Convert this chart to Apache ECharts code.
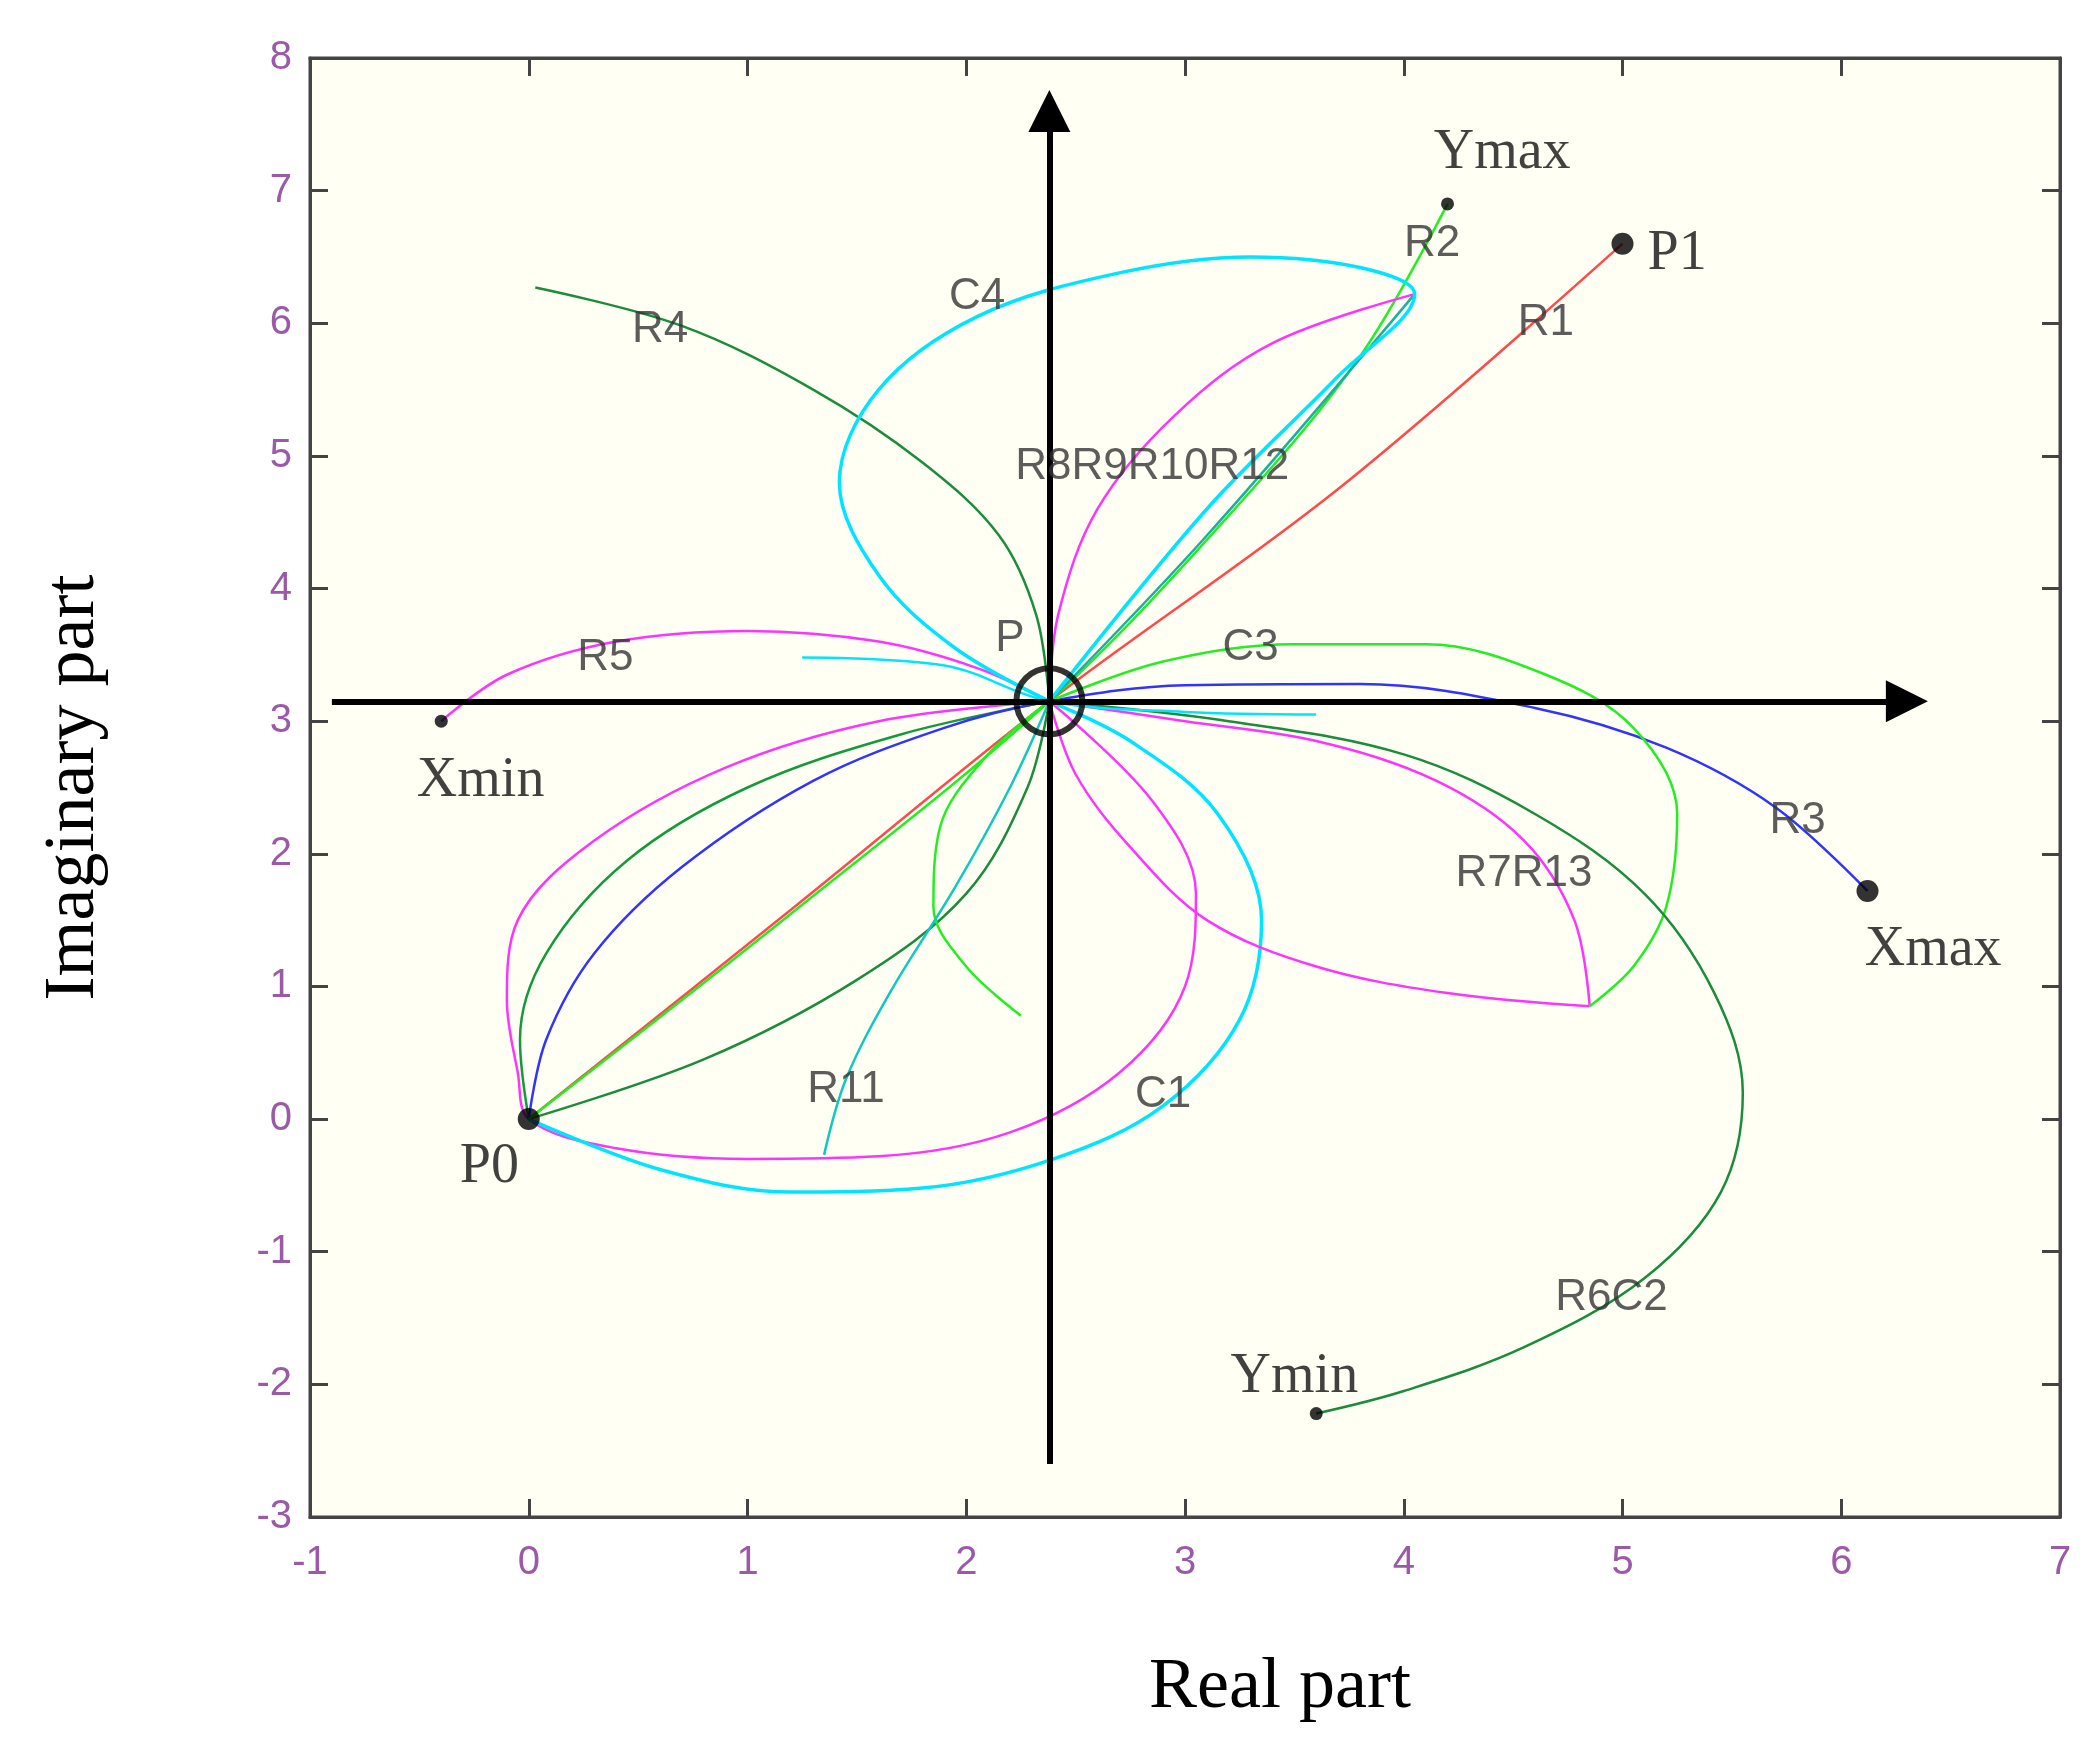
<!DOCTYPE html>
<html>
<head>
<meta charset="utf-8">
<script src="https://cdn.jsdelivr.net/npm/echarts@6/dist/echarts.min.js"></script>
<style>html,body{margin:0;background:#fff}#main{width:2100px;height:1749px}</style>
</head>
<body>
<div id="main"></div>
<script>
var xTicks = [-1, 0, 1, 2, 3, 4, 5, 6, 7];
var yTicks = [-3, -2, -1, 0, 1, 2, 3, 4, 5, 6, 7, 8];

// curves: [real, imaginary]
var R1 = [[0,0],[1.2,1.58],[2.38,3.15],[3.7,4.75],[5,6.6]];
var R2 = [[0,0],[1.2,1.55],[2.38,3.15],[3.2,4.55],[3.8,5.75],[4.2,6.9]];
var R2b = [[2.38,3.15],[3.1,4.4],[4.05,6.22]];
var R3 = [[0,0],[0.08,0.6],[0.3,1.25],[0.7,1.9],[1.3,2.55],[1.9,2.95],[2.38,3.15],[3.0,3.27],[3.8,3.28],[4.6,3.1],[5.2,2.8],[5.7,2.35],[6.12,1.72]];
var R4 = [[0.03,6.27],[0.7,5.98],[1.3,5.5],[1.8,4.95],[2.15,4.4],[2.32,3.8],[2.38,3.15]];
var R4b = [[2.38,3.15],[2.28,2.5],[2.0,1.7],[1.5,1.05],[0.8,0.45],[0,0]];
var R5 = [[-0.4,3.0],[-0.1,3.35],[0.4,3.6],[1.0,3.68],[1.6,3.6],[2.05,3.4],[2.38,3.15]];
var R7 = [[2.38,3.15],[3.0,3.0],[3.6,2.85],[4.15,2.55],[4.55,2.1],[4.78,1.5],[4.85,0.85]];
var R13 = [[4.85,0.85],[4.2,0.95],[3.6,1.15],[3.1,1.5],[2.75,2.05],[2.5,2.6],[2.38,3.15]];
var R8 = [[2.38,3.15],[2.42,3.8],[2.6,4.6],[2.95,5.3],[3.4,5.85],[4.05,6.22]];
var C4 = [[2.38,3.15],[1.95,3.55],[1.6,4.1],[1.42,4.8],[1.6,5.5],[2.05,6.05],[2.7,6.38],[3.3,6.5],[3.8,6.42],[4.05,6.22],[3.7,5.6],[3.1,4.6],[2.38,3.15]];
var C3 = [[2.38,3.15],[2.9,3.45],[3.5,3.58],[4.1,3.58],[4.65,3.35],[5.05,2.95],[5.25,2.3],[5.2,1.6],[5.05,1.15],[4.85,0.85]];
var C3b = [[2.38,3.15],[2.1,2.75],[1.88,2.2],[1.85,1.6],[2.0,1.15],[2.25,0.78]];
var R6C2 = [[2.38,3.15],[3.2,3.0],[4.0,2.75],[4.6,2.3],[5.1,1.7],[5.42,0.95],[5.55,0.2],[5.45,-0.55],[5.1,-1.2],[4.55,-1.72],[4.0,-2.05],[3.6,-2.22]];
var R11 = [[1.35,-0.27],[1.45,0.3],[1.65,0.95],[1.95,1.75],[2.2,2.5],[2.38,3.15]];
var cyanShort = [[1.25,3.48],[1.9,3.42],[2.38,3.15],[3.0,3.07],[3.6,3.05]];
var loopMag = [[2.38,3.15],[1.6,3.0],[0.9,2.65],[0.3,2.1],[-0.05,1.5],[-0.1,0.9],[-0.05,0.35],[0,0],[0.4,-0.22],[1.0,-0.3],[1.6,-0.28],[2.2,-0.1],[2.7,0.35],[3.0,1.0],[3.05,1.7],[2.85,2.4],[2.38,3.15]];
var C1 = [[0,0],[0.6,-0.38],[1.2,-0.55],[1.8,-0.52],[2.4,-0.3],[2.9,0.1],[3.25,0.75],[3.35,1.5],[3.15,2.3],[2.75,2.85],[2.38,3.15]];
var dgLoop = [[0,0],[-0.04,0.6],[0.08,1.25],[0.45,1.95],[1.0,2.5],[1.7,2.9],[2.38,3.15]];

var bigDots = [[0,0],[5,6.6],[6.12,1.72]];
var smallDots = [[-0.4,3.0],[4.2,6.9],[3.6,-2.22]];
var centerP = [[2.38,3.15]];

var textLabels = [['Ymax',4.45,7.28,'s'],['R2',4.13,6.6],['P1',5.25,6.52,'s'],['R1',4.65,6.0],['C4',2.05,6.2],['R4',0.6,5.95],
  ['R8R9R10R12',2.85,4.92],['P',2.2,3.62],['C3',3.3,3.55],['R5',0.35,3.48],['Xmin',-0.22,2.55,'s'],['R3',5.8,2.25],
  ['R7R13',4.55,1.85],['Xmax',6.42,1.27,'s'],['R11',1.45,0.22],['C1',2.9,0.18],['P0',-0.18,-0.36,'s'],
  ['R6C2',4.95,-1.35],['Ymin',3.5,-1.95,'s']];

var axisArrows = [[[-0.9,3.15],[6.3,3.15]],[[2.38,-2.6],[2.38,7.6]]];

var chart = echarts.init(document.getElementById('main'));
function curve(d, color, w) {
  return {type:'line', data:d, smooth:0.35, showSymbol:false, silent:true,
    lineStyle:{color:color, width:w || 2.5}, z:3};
}
var series = [
  curve(loopMag,'#ff33ff'), curve(C1,'#00e5ff',3.5), curve(dgLoop,'#149a3c'), curve(R3,'#3333ff'),
  curve(R4,'#1a8c3c'), curve(R4b,'#1a8c3c'), curve(R1,'#ff4a4a'), curve(R2,'#22ee22'), curve(R2b,'#18b0a0'),
  curve(R5,'#ff33ff'), curve(R7,'#ff33ff'), curve(R13,'#ff33ff'), curve(R8,'#ff33ff'), curve(C4,'#00e5ff',3.5),
  curve(C3,'#22ee22'), curve(C3b,'#22ee22'), curve(R6C2,'#1a8c3c'), curve(R11,'#10c8c0'), curve(cyanShort,'#00e5ff'),
  {type:'lines', coordinateSystem:'cartesian2d', polyline:false, silent:true, z:5,
    symbol:['none','triangle'], symbolSize:[0,42],
    lineStyle:{color:'#000', width:6, opacity:1},
    data: axisArrows.map(function(c){return {coords:c};})},
  {type:'scatter', data:centerP, symbol:'circle', symbolSize:66, z:6, silent:true,
    itemStyle:{color:'rgba(0,0,0,0)', borderColor:'#000', borderWidth:6}},
  {type:'scatter', data:bigDots, symbolSize:22, itemStyle:{color:'#000'}, z:7, silent:true},
  {type:'scatter', data:smallDots, symbolSize:13, itemStyle:{color:'#000'}, z:7, silent:true},
  {type:'scatter', symbolSize:0, z:8, silent:true,
    data: textLabels.map(function(t){return {value:[t[1],t[2]], name:t[0],
      label:{fontFamily: t[3] ? 'Liberation Serif' : 'Liberation Sans', fontSize: t[3] ? 56 : 44,
        color: t[3] ? '#111' : '#333'}};}),
    label:{show:true, position:'inside', formatter:function(p){return p.name;}}}
];

var tickStyle = {inside:true, length:18, lineStyle:{color:'#444', width:3}};
chart.setOption({
  backgroundColor:'#fff',
  animation:false,
  grid:{left:310, right:40, top:58, bottom:232, show:true, backgroundColor:'#fffff3', borderColor:'#444', borderWidth:3},
  xAxis:[{type:'value', min:xTicks[0], max:xTicks[xTicks.length-1], interval:1,
    name:'Real part', nameLocation:'middle', nameGap:135,
    nameTextStyle:{fontFamily:'Liberation Serif', fontSize:72, color:'#000', padding:[0,0,0,190]},
    axisLine:{onZero:false, lineStyle:{color:'#444', width:3}}, axisTick:tickStyle,
    axisLabel:{fontSize:40, color:'#9a5aa8', margin:26, fontFamily:'Liberation Sans'}, splitLine:{show:false}},
    {type:'value', position:'top', min:xTicks[0], max:xTicks[xTicks.length-1], interval:1,
    axisLine:{onZero:false, lineStyle:{color:'#444', width:3}}, axisTick:tickStyle, axisLabel:{show:false}, splitLine:{show:false}}],
  yAxis:[{type:'value', min:yTicks[0], max:yTicks[yTicks.length-1], interval:1,
    name:'Imaginary part', nameLocation:'middle', nameGap:200,
    nameTextStyle:{fontFamily:'Liberation Serif', fontSize:72, color:'#000'},
    axisLine:{onZero:false, lineStyle:{color:'#444', width:3}}, axisTick:tickStyle,
    axisLabel:{fontSize:40, color:'#9a5aa8', margin:18, fontFamily:'Liberation Sans'}, splitLine:{show:false}},
    {type:'value', position:'right', min:yTicks[0], max:yTicks[yTicks.length-1], interval:1,
    axisLine:{onZero:false, lineStyle:{color:'#444', width:3}}, axisTick:tickStyle, axisLabel:{show:false}, splitLine:{show:false}}],
  series:series
});
</script>
</body>
</html>
